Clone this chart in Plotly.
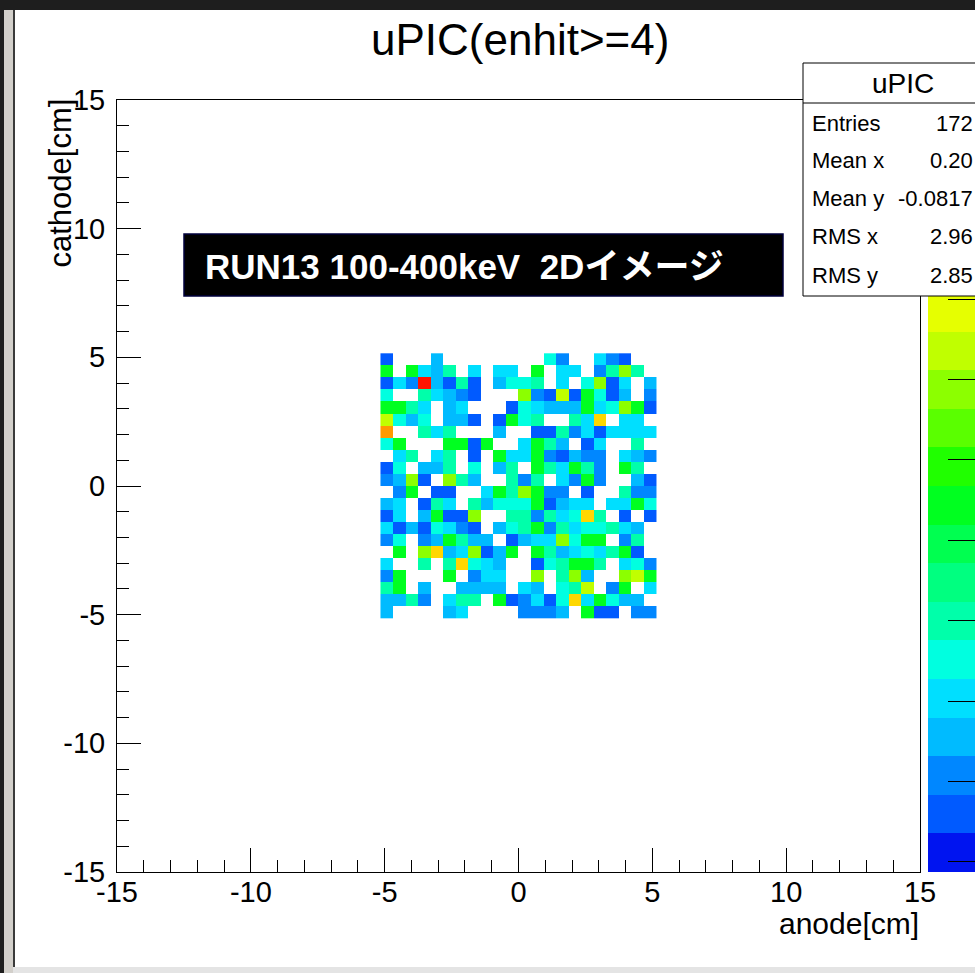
import plotly.graph_objects as go

# ---------------- data ----------------
title_text = "uPIC(enhit&gt;=4)"
x_title = "anode[cm]"
y_title = "cathode[cm]"
label_text = "RUN13 100-400keV  2Dイメージ"
stats_title = "uPIC"
stats_labels = ["Entries", "Mean x", "Mean y", "RMS x", "RMS y"]
stats_values = ["172", "0.20", "-0.0817", "2.96", "2.85"]

tick_vals = [-15, -10, -5, 0, 5, 10, 15]
tick_text = ["-15", "-10", "-5", "0", "5", "10", "15"]

# histogram binning: 64 bins over [-15, 15]; filled region = bins 21..42
axis_min, axis_max, n_bins = -15.0, 15.0, 64
first_bin = 21

# counts per bin, rows from top (cathode high) to bottom, columns anode low -> high
counts = [
    [1, 0, 0, 0, 3, 0, 0, 0, 0, 0, 0, 0, 0, 5, 2, 0, 0, 4, 2, 1, 0, 0],
    [9, 0, 9, 4, 3, 6, 0, 4, 0, 4, 4, 0, 9, 0, 4, 4, 0, 2, 6, 12, 6, 0],
    [1, 4, 2, 19, 3, 1, 6, 1, 0, 3, 5, 5, 6, 0, 4, 0, 5, 12, 1, 4, 0, 3],
    [5, 0, 0, 6, 4, 3, 2, 1, 0, 0, 0, 12, 2, 1, 13, 1, 9, 5, 1, 3, 0, 2],
    [9, 9, 6, 4, 0, 3, 4, 0, 0, 0, 1, 5, 4, 3, 3, 3, 9, 4, 5, 12, 9, 1],
    [13, 5, 3, 5, 0, 3, 3, 1, 0, 1, 9, 5, 6, 0, 0, 6, 4, 15, 0, 4, 4, 0],
    [16, 0, 0, 6, 4, 6, 0, 0, 0, 3, 0, 0, 1, 1, 6, 2, 4, 1, 4, 4, 4, 4],
    [5, 9, 0, 0, 0, 9, 9, 1, 9, 0, 0, 4, 9, 6, 3, 0, 1, 4, 0, 0, 6, 0],
    [0, 4, 6, 0, 4, 6, 0, 1, 0, 9, 4, 4, 9, 2, 1, 3, 2, 2, 0, 4, 3, 2],
    [1, 5, 0, 3, 3, 6, 0, 5, 0, 3, 6, 0, 9, 6, 4, 9, 6, 2, 0, 9, 6, 0],
    [2, 3, 12, 1, 0, 12, 6, 3, 0, 0, 6, 2, 6, 0, 4, 2, 9, 2, 0, 0, 3, 1],
    [0, 2, 9, 0, 1, 1, 0, 0, 4, 9, 6, 12, 9, 2, 2, 0, 1, 0, 0, 6, 2, 2],
    [3, 4, 0, 1, 6, 4, 0, 6, 3, 5, 5, 5, 9, 1, 3, 4, 4, 0, 4, 4, 9, 5],
    [1, 4, 0, 3, 9, 1, 1, 12, 0, 0, 6, 6, 2, 6, 4, 5, 15, 6, 0, 1, 0, 1],
    [4, 1, 3, 1, 5, 4, 2, 1, 0, 3, 5, 6, 9, 2, 6, 4, 5, 5, 6, 4, 3, 0],
    [2, 5, 0, 2, 3, 9, 6, 3, 3, 0, 1, 3, 4, 4, 12, 5, 9, 9, 0, 2, 6, 0],
    [0, 9, 0, 12, 15, 3, 4, 12, 1, 3, 9, 0, 9, 6, 3, 4, 5, 4, 6, 9, 1, 0],
    [4, 0, 0, 6, 0, 6, 15, 5, 4, 3, 0, 0, 1, 5, 6, 9, 9, 6, 0, 4, 5, 2],
    [2, 9, 0, 0, 0, 9, 0, 2, 4, 4, 0, 0, 12, 0, 6, 12, 3, 0, 0, 12, 13, 9],
    [6, 9, 0, 3, 0, 0, 3, 3, 3, 3, 0, 4, 3, 0, 5, 6, 13, 0, 2, 9, 0, 4],
    [3, 3, 6, 2, 0, 4, 6, 6, 0, 9, 1, 2, 4, 1, 5, 15, 4, 9, 5, 3, 3, 0],
    [3, 0, 0, 0, 0, 3, 4, 0, 0, 0, 0, 2, 2, 2, 3, 0, 9, 1, 1, 0, 2, 2],
]

z_min, z_max, n_levels = -0.25, 18.95, 20
palette = [
    "#0014F0", "#005AFF", "#0087FF", "#00BBFF", "#00DFFF",
    "#00FFE0", "#00FFAA", "#00FF80", "#00FF50", "#00FF20",
    "#20FF00", "#5AFF00", "#8CFF00", "#C0FF00", "#E6FF00",
    "#FFD700", "#FF9A00", "#FF6400", "#FF3200", "#FF1400",
]

# ---------------- geometry helpers ----------------
W, H = 975, 973
ML, MR, MT, MB = 117, 0, 100, 101
PW, PH = W - ML - MR, H - MT - MB
FONT = "Liberation Sans, Arial, Helvetica, sans-serif"
JFONT = "Liberation Sans, Arial, Noto Sans CJK JP, sans-serif"


def px(x):
    return (x - ML) / PW


def py(y):
    return (H - MB - y) / PH


bw = (axis_max - axis_min) / n_bins
n_cols = len(counts[0])
n_rows = len(counts)
x_centers = [axis_min + (first_bin + i + 0.5) * bw for i in range(n_cols)]
y_centers = [axis_min + (first_bin + j + 0.5) * bw for j in range(n_rows)]
z = [[(v if v > 0 else None) for v in row] for row in counts[::-1]]

colorscale = []
for k, c in enumerate(palette):
    colorscale.append([k / n_levels, c])
    colorscale.append([(k + 1) / n_levels, c])

fig = go.Figure()
fig.add_trace(go.Heatmap(
    x=x_centers, y=y_centers, z=z, zmin=z_min, zmax=z_max,
    colorscale=colorscale, showscale=False, hoverinfo="skip",
    xaxis="x", yaxis="y",
))

# palette (z axis) drawn as its own strip
lvl_w = (z_max - z_min) / n_levels
pal_y = [z_min + (k + 0.5) * lvl_w for k in range(n_levels)]
fig.add_trace(go.Heatmap(
    x=[0], y=pal_y, z=[[v] for v in pal_y], zmin=z_min, zmax=z_max,
    colorscale=colorscale, showscale=False, hoverinfo="skip",
    xaxis="x2", yaxis="y2",
))

axis_common = dict(
    range=[axis_min, axis_max], showgrid=False, zeroline=False,
    showline=True, linecolor="black", linewidth=1, mirror=True,
    ticks="inside", ticklen=24, tickwidth=1, tickcolor="black",
    tickvals=tick_vals, ticktext=tick_text,
    minor=dict(ticks="inside", ticklen=12, tickwidth=1, tickcolor="black",
               dtick=1, tick0=0, showgrid=False),
    tickfont=dict(family=FONT, size=29, color="black"),
    automargin=False,
)

fig.update_layout(
    width=W, height=H,
    margin=dict(l=ML, r=MR, t=MT, b=MB, pad=0, autoexpand=False),
    paper_bgcolor="white", plot_bgcolor="white",
    showlegend=False,
    xaxis=dict(domain=[0, px(920)], anchor="y", ticklabelstandoff=-6,
               **axis_common),
    yaxis=dict(domain=[0, 1], anchor="x", ticklabelstandoff=5, **axis_common),
    xaxis2=dict(domain=[px(928), 1], anchor="y2", range=[-0.5, 0.5],
                visible=False, automargin=False),
    yaxis2=dict(domain=[0, 1], anchor="x2", range=[z_min, z_max], side="right",
                showgrid=False, zeroline=False, showline=False,
                ticks="inside", ticklen=27, tickwidth=1, tickcolor="black",
                dtick=2, tick0=0, showticklabels=False, automargin=False),
)

shapes = []
# stats box (runs off the right edge of the picture: no right border)
shapes.append(dict(type="rect", xref="paper", yref="paper",
                   x0=px(803), x1=px(W), y0=py(296), y1=py(63),
                   fillcolor="white", line=dict(width=0), layer="above"))
for (xa, ya, xb, yb) in [(803, 63, W, 63), (803, 296, W, 296),
                         (803, 63, 803, 296), (803, 103, W, 103)]:
    shapes.append(dict(type="line", xref="paper", yref="paper",
                       x0=px(xa), x1=px(xb), y0=py(ya), y1=py(yb),
                       line=dict(color="black", width=1), layer="above"))
# black label box
shapes.append(dict(type="rect", xref="paper", yref="paper",
                   x0=px(184), x1=px(783), y0=py(296), y1=py(234),
                   fillcolor="black", line=dict(color="#00003C", width=1.5), layer="above"))
# screenshot window edges
shapes.append(dict(type="rect", xref="paper", yref="paper",
                   x0=px(0), x1=px(W), y0=py(10), y1=py(0),
                   fillcolor="#1E1E1E", line=dict(width=0), layer="above"))
shapes.append(dict(type="rect", xref="paper", yref="paper",
                   x0=px(0), x1=px(4), y0=py(H), y1=py(0),
                   fillcolor="#1E1E1E", line=dict(width=0), layer="above"))
shapes.append(dict(type="rect", xref="paper", yref="paper",
                   x0=px(4), x1=px(13), y0=py(H), y1=py(10),
                   fillcolor="#D2CFCA", line=dict(width=0), layer="above"))
shapes.append(dict(type="rect", xref="paper", yref="paper",
                   x0=px(13), x1=px(15), y0=py(967), y1=py(10),
                   fillcolor="#3A3A3A", line=dict(width=0), layer="above"))
shapes.append(dict(type="rect", xref="paper", yref="paper",
                   x0=px(13), x1=px(W), y0=py(H), y1=py(967),
                   fillcolor="#E4E4E4", line=dict(width=0), layer="above"))
fig.update_layout(shapes=shapes)


def ann(text, x, y, size, xanchor="center", yanchor="middle", color="black",
        weight="normal", angle=0, family=FONT):
    return dict(text=text, x=px(x), y=py(y), xref="paper", yref="paper",
                showarrow=False, xanchor=xanchor, yanchor=yanchor,
                textangle=angle,
                font=dict(size=size, color=color, family=family, weight=weight))


anns = [
    ann(title_text, 520, 40, 44),
    ann(x_title, 921, 923, 30, xanchor="right"),
    ann(y_title, 60, 97, 31, yanchor="top", angle=-90),
    ann(label_text, 203, 266, 35, xanchor="left", color="white",
        weight="bold", family=JFONT),
    ann(stats_title, 903, 84, 28),
]
row_y = [123, 161, 198, 237, 275]
for lab, val, yy in zip(stats_labels, stats_values, row_y):
    anns.append(ann(lab, 810, yy, 22, xanchor="left"))
    anns.append(ann(val, 975, yy, 22, xanchor="right"))
fig.update_layout(annotations=anns)

# the page is photographed from its top-left corner: drop the browser's body margin
fig.write_html("out.html", config={"displayModeBar": False},
               post_script="document.body.style.margin='0px';")
